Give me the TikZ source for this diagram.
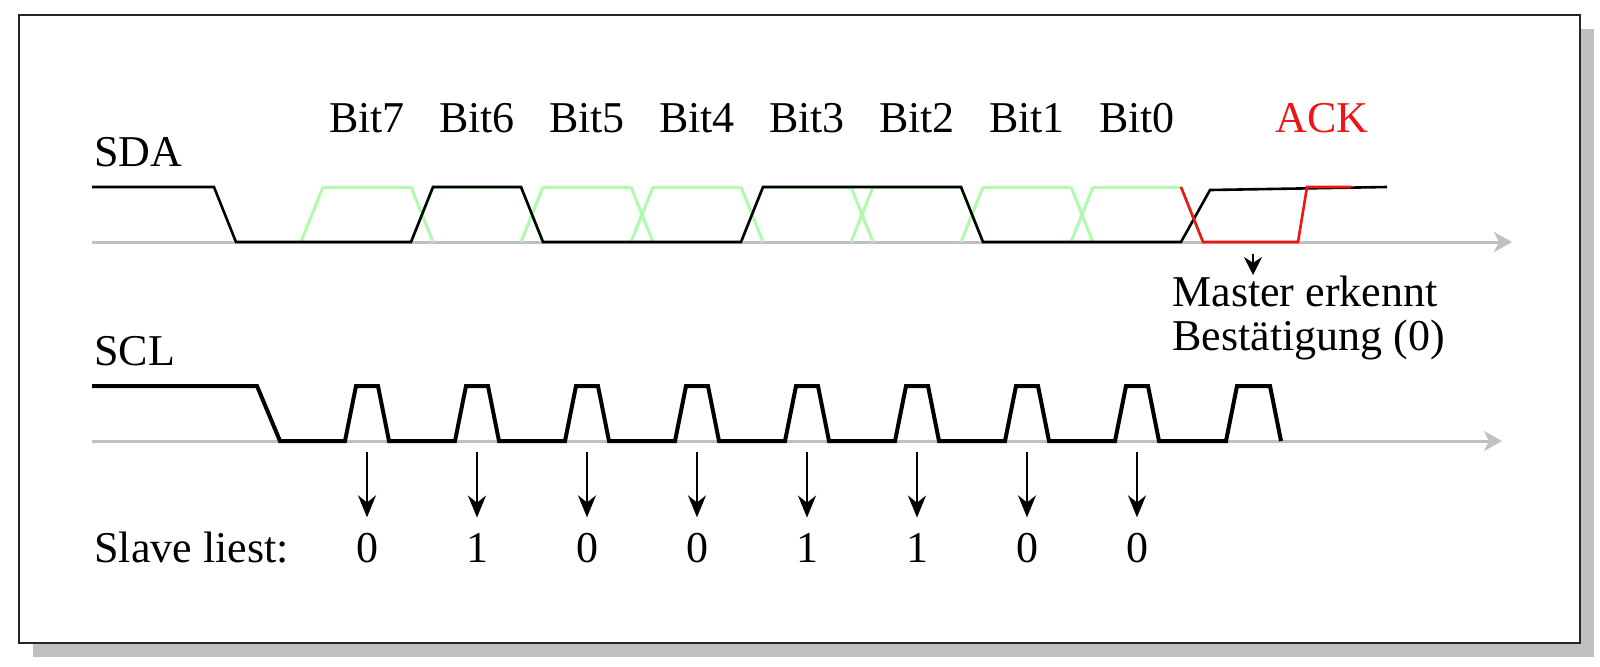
\documentclass[tikz,border=0pt]{standalone}
\usepackage{fontspec}
\setmainfont{Liberation Serif}
\usetikzlibrary{arrows.meta}
\definecolor{sigreen}{RGB}{176,250,176}
\definecolor{axisgray}{RGB}{192,192,192}
\definecolor{shadowgray}{RGB}{192,192,192}
\definecolor{ackred}{RGB}{240,20,20}
\begin{document}
\begin{tikzpicture}[x=0.5pt,y=-0.5pt,
  lbl/.style={font=\fontsize{22}{22}\selectfont, inner sep=0pt, anchor=base},
  axisline/.style={draw=axisgray, line width=1.5pt, -{Stealth[length=9pt,width=10pt,inset=2.5pt]}},
  greenline/.style={draw=sigreen, line width=1.5pt},
  sdaline/.style={draw=black, line width=1.3pt},
  ackline/.style={draw=ackred, line width=1.3pt},
  sclline/.style={draw=black, line width=2pt},
  readarrow/.style={draw=black, line width=1pt, -{Stealth[length=11pt,width=9pt]}, shorten >=7.5pt},
  smallarrow/.style={draw=black, line width=1pt, -{Stealth[length=9pt,width=9pt]}}]
\useasboundingbox (0,0) rectangle (1600,666);
% frame with shadow
\fill[shadowgray] (33,29) rectangle (1594,657);
\draw[line width=1.2pt, draw=black!85, fill=white] (19,15) rectangle (1580,643);
% axes
\coordinate (sdaA0) at (92,242);
\coordinate (sdaA1) at (1512,242);
\coordinate (sclA0) at (92,441);
\coordinate (sclA1) at (1502,441);
\draw[axisline] (sdaA0) -- (sdaA1);
\draw[axisline] (sclA0) -- (sclA1);
% green alternative levels
\draw[greenline] (301,242) -- (323,187);
\foreach \b in {301,411,521,631,741,851,961,1071}
  \draw[greenline] ({\b+22},187) -- ({\b+110},187);
\foreach \b in {411,521,631,741,851,961,1071} {
  \draw[greenline] (\b,187) -- ++(22,55);
  \draw[greenline] (\b,242) -- ++(22,-55);
}
\draw[greenline] (1181,187) -- (1203,242);
% SDA black
\draw[sdaline] (92,187) -- (214,187) -- (236,242) -- (411,242) -- (433,187)
  -- (521,187) -- (543,242) -- (741,242) -- (763,187) -- (961,187)
  -- (983,242) -- (1181,242) -- (1210,190) -- (1387,187);
% ACK red
\draw[ackline] (1181,187) -- (1203,242) -- (1298,242) -- (1307,187) -- (1351,187);
% SCL
\draw[sclline] (92,386) -- (257,386) -- (280,441)
  \foreach \k in {0,...,7} {
    -- ({367+110*\k-22},441) -- ({367+110*\k-11},386)
    -- ({367+110*\k+11},386) -- ({367+110*\k+22},441)
  }
  -- (1226,441) -- (1237,386) -- (1270,386) -- (1281,441);
% labels
\node[lbl, anchor=base west] (sda) at (94,166) {SDA};
\node[lbl, anchor=base west] (scl) at (94,365) {SCL};
\foreach \n [count=\k from 0] in {7,6,5,4,3,2,1,0}
  \node[lbl] (bit\n) at ({367+110*\k},132) {Bit\n};
\node[lbl, text=ackred] (ack) at (1322,132) {ACK};
\node[lbl, anchor=base west, align=left] (mast) at (1172,350) {Master erkennt\\Bestätigung (0)};
\coordinate (ackA) at (1253,254);
\coordinate (ackB) at (1253,275);
\draw[smallarrow] (ackA) -- (ackB);
\node[lbl, anchor=base west] (slave) at (94,562) {Slave liest:};
\foreach \v [count=\k from 0] in {0,1,0,0,1,1,0,0} {
  \node[lbl] (d\k) at ({367+110*\k},562) {\v};
  \coordinate (r\k) at ({367+110*\k},452);
  \draw[readarrow] (r\k) -- (d\k.north);
}
\end{tikzpicture}
\end{document}
